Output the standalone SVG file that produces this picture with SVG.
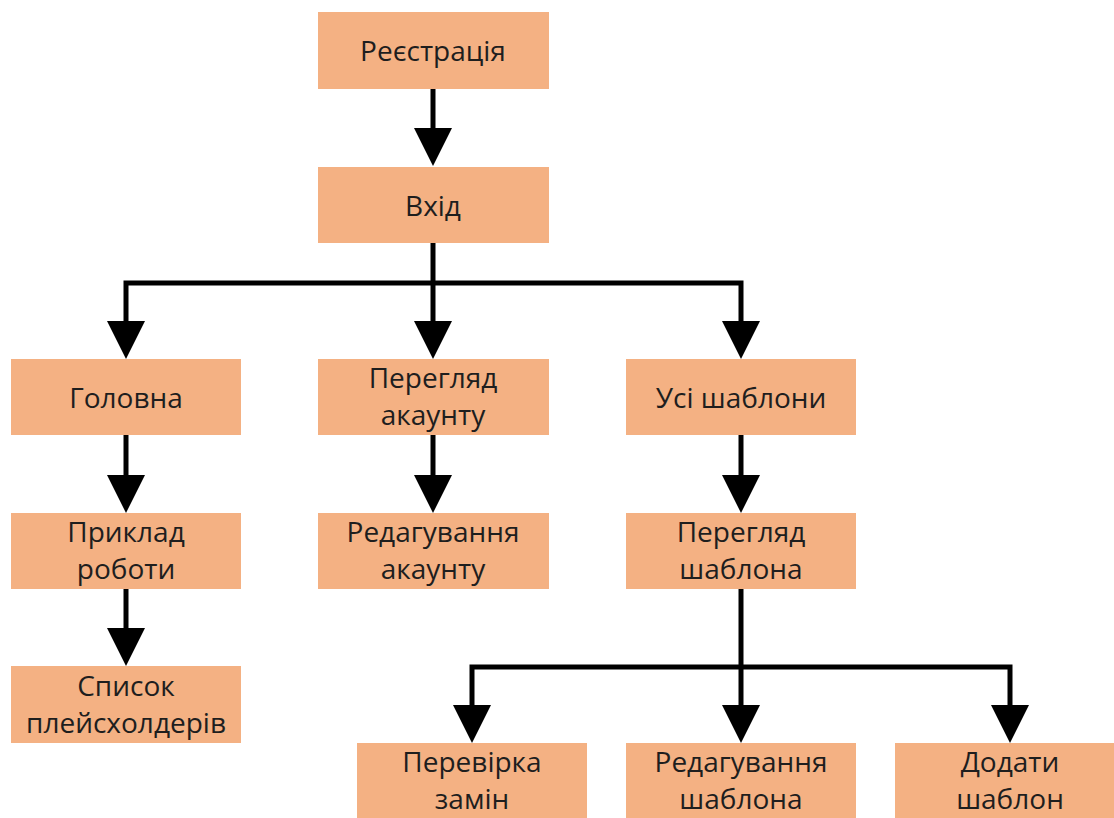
<svg xmlns="http://www.w3.org/2000/svg" width="1114" height="818" viewBox="0 0 1114 818">
  <style>
    .box { fill: #F4B183; }
    .lbl { font-family: "Open Sans", "Liberation Sans", sans-serif; font-size: 28px; fill: #1e1e1e; text-anchor: middle; }
    .wire { fill: none; stroke: #000; stroke-width: 5; stroke-linejoin: miter; stroke-linecap: butt; }
  </style>
  <defs>
    <marker id="head" markerUnits="userSpaceOnUse" markerWidth="40" markerHeight="40" refX="0" refY="19" orient="auto" overflow="visible">
      <path d="M0,0 L38,19 L0,38 Z" fill="#000"/>
    </marker>
  </defs>
  <rect width="1114" height="818" fill="#fff"/>

  <!-- connectors -->
  <g id="connectors">
    <path class="wire" d="M433,89 V128" marker-end="url(#head)"/>
    <path class="wire" d="M433,243 V321" marker-end="url(#head)"/>
    <path class="wire" d="M433,283 H126 V321" marker-end="url(#head)"/>
    <path class="wire" d="M433,283 H741 V321" marker-end="url(#head)"/>
    <path class="wire" d="M126,435 V475" marker-end="url(#head)"/>
    <path class="wire" d="M433,435 V475" marker-end="url(#head)"/>
    <path class="wire" d="M741,435 V475" marker-end="url(#head)"/>
    <path class="wire" d="M126,589 V628" marker-end="url(#head)"/>
    <path class="wire" d="M741,589 V705" marker-end="url(#head)"/>
    <path class="wire" d="M741,667 H472 V705" marker-end="url(#head)"/>
    <path class="wire" d="M741,667 H1010 V705" marker-end="url(#head)"/>
  </g>

  <g id="n-registration">
    <rect class="box" x="318" y="12" width="231" height="77"/>
    <text class="lbl" x="433" y="61">Реєстрація</text>
  </g>
  <g id="n-login">
    <rect class="box" x="318" y="167" width="231" height="76"/>
    <text class="lbl" x="433" y="216">Вхід</text>
  </g>
  <g id="n-home">
    <rect class="box" x="11" y="359" width="230" height="76"/>
    <text class="lbl" x="126" y="408">Головна</text>
  </g>
  <g id="n-account-view">
    <rect class="box" x="318" y="359" width="231" height="76"/>
    <text class="lbl" x="433" y="388">Перегляд</text>
    <text class="lbl" x="433" y="425">акаунту</text>
  </g>
  <g id="n-all-templates">
    <rect class="box" x="626" y="359" width="230" height="76"/>
    <text class="lbl" x="741" y="408">Усі шаблони</text>
  </g>
  <g id="n-example">
    <rect class="box" x="11" y="513" width="230" height="76"/>
    <text class="lbl" x="126" y="542">Приклад</text>
    <text class="lbl" x="126" y="579">роботи</text>
  </g>
  <g id="n-account-edit">
    <rect class="box" x="318" y="513" width="231" height="76"/>
    <text class="lbl" x="433" y="542">Редагування</text>
    <text class="lbl" x="433" y="579">акаунту</text>
  </g>
  <g id="n-template-view">
    <rect class="box" x="626" y="513" width="230" height="76"/>
    <text class="lbl" x="741" y="542">Перегляд</text>
    <text class="lbl" x="741" y="579">шаблона</text>
  </g>
  <g id="n-placeholders">
    <rect class="box" x="11" y="666" width="230" height="77"/>
    <text class="lbl" x="126" y="696">Список</text>
    <text class="lbl" x="126" y="733">плейсхолдерів</text>
  </g>
  <g id="n-check">
    <rect class="box" x="357" y="743" width="230" height="80"/>
    <text class="lbl" x="472" y="772">Перевірка</text>
    <text class="lbl" x="472" y="809">замін</text>
  </g>
  <g id="n-template-edit">
    <rect class="box" x="626" y="743" width="230" height="80"/>
    <text class="lbl" x="741" y="772">Редагування</text>
    <text class="lbl" x="741" y="809">шаблона</text>
  </g>
  <g id="n-template-add">
    <rect class="box" x="895" y="743" width="230" height="80"/>
    <text class="lbl" x="1010" y="772">Додати</text>
    <text class="lbl" x="1010" y="809">шаблон</text>
  </g>
</svg>
